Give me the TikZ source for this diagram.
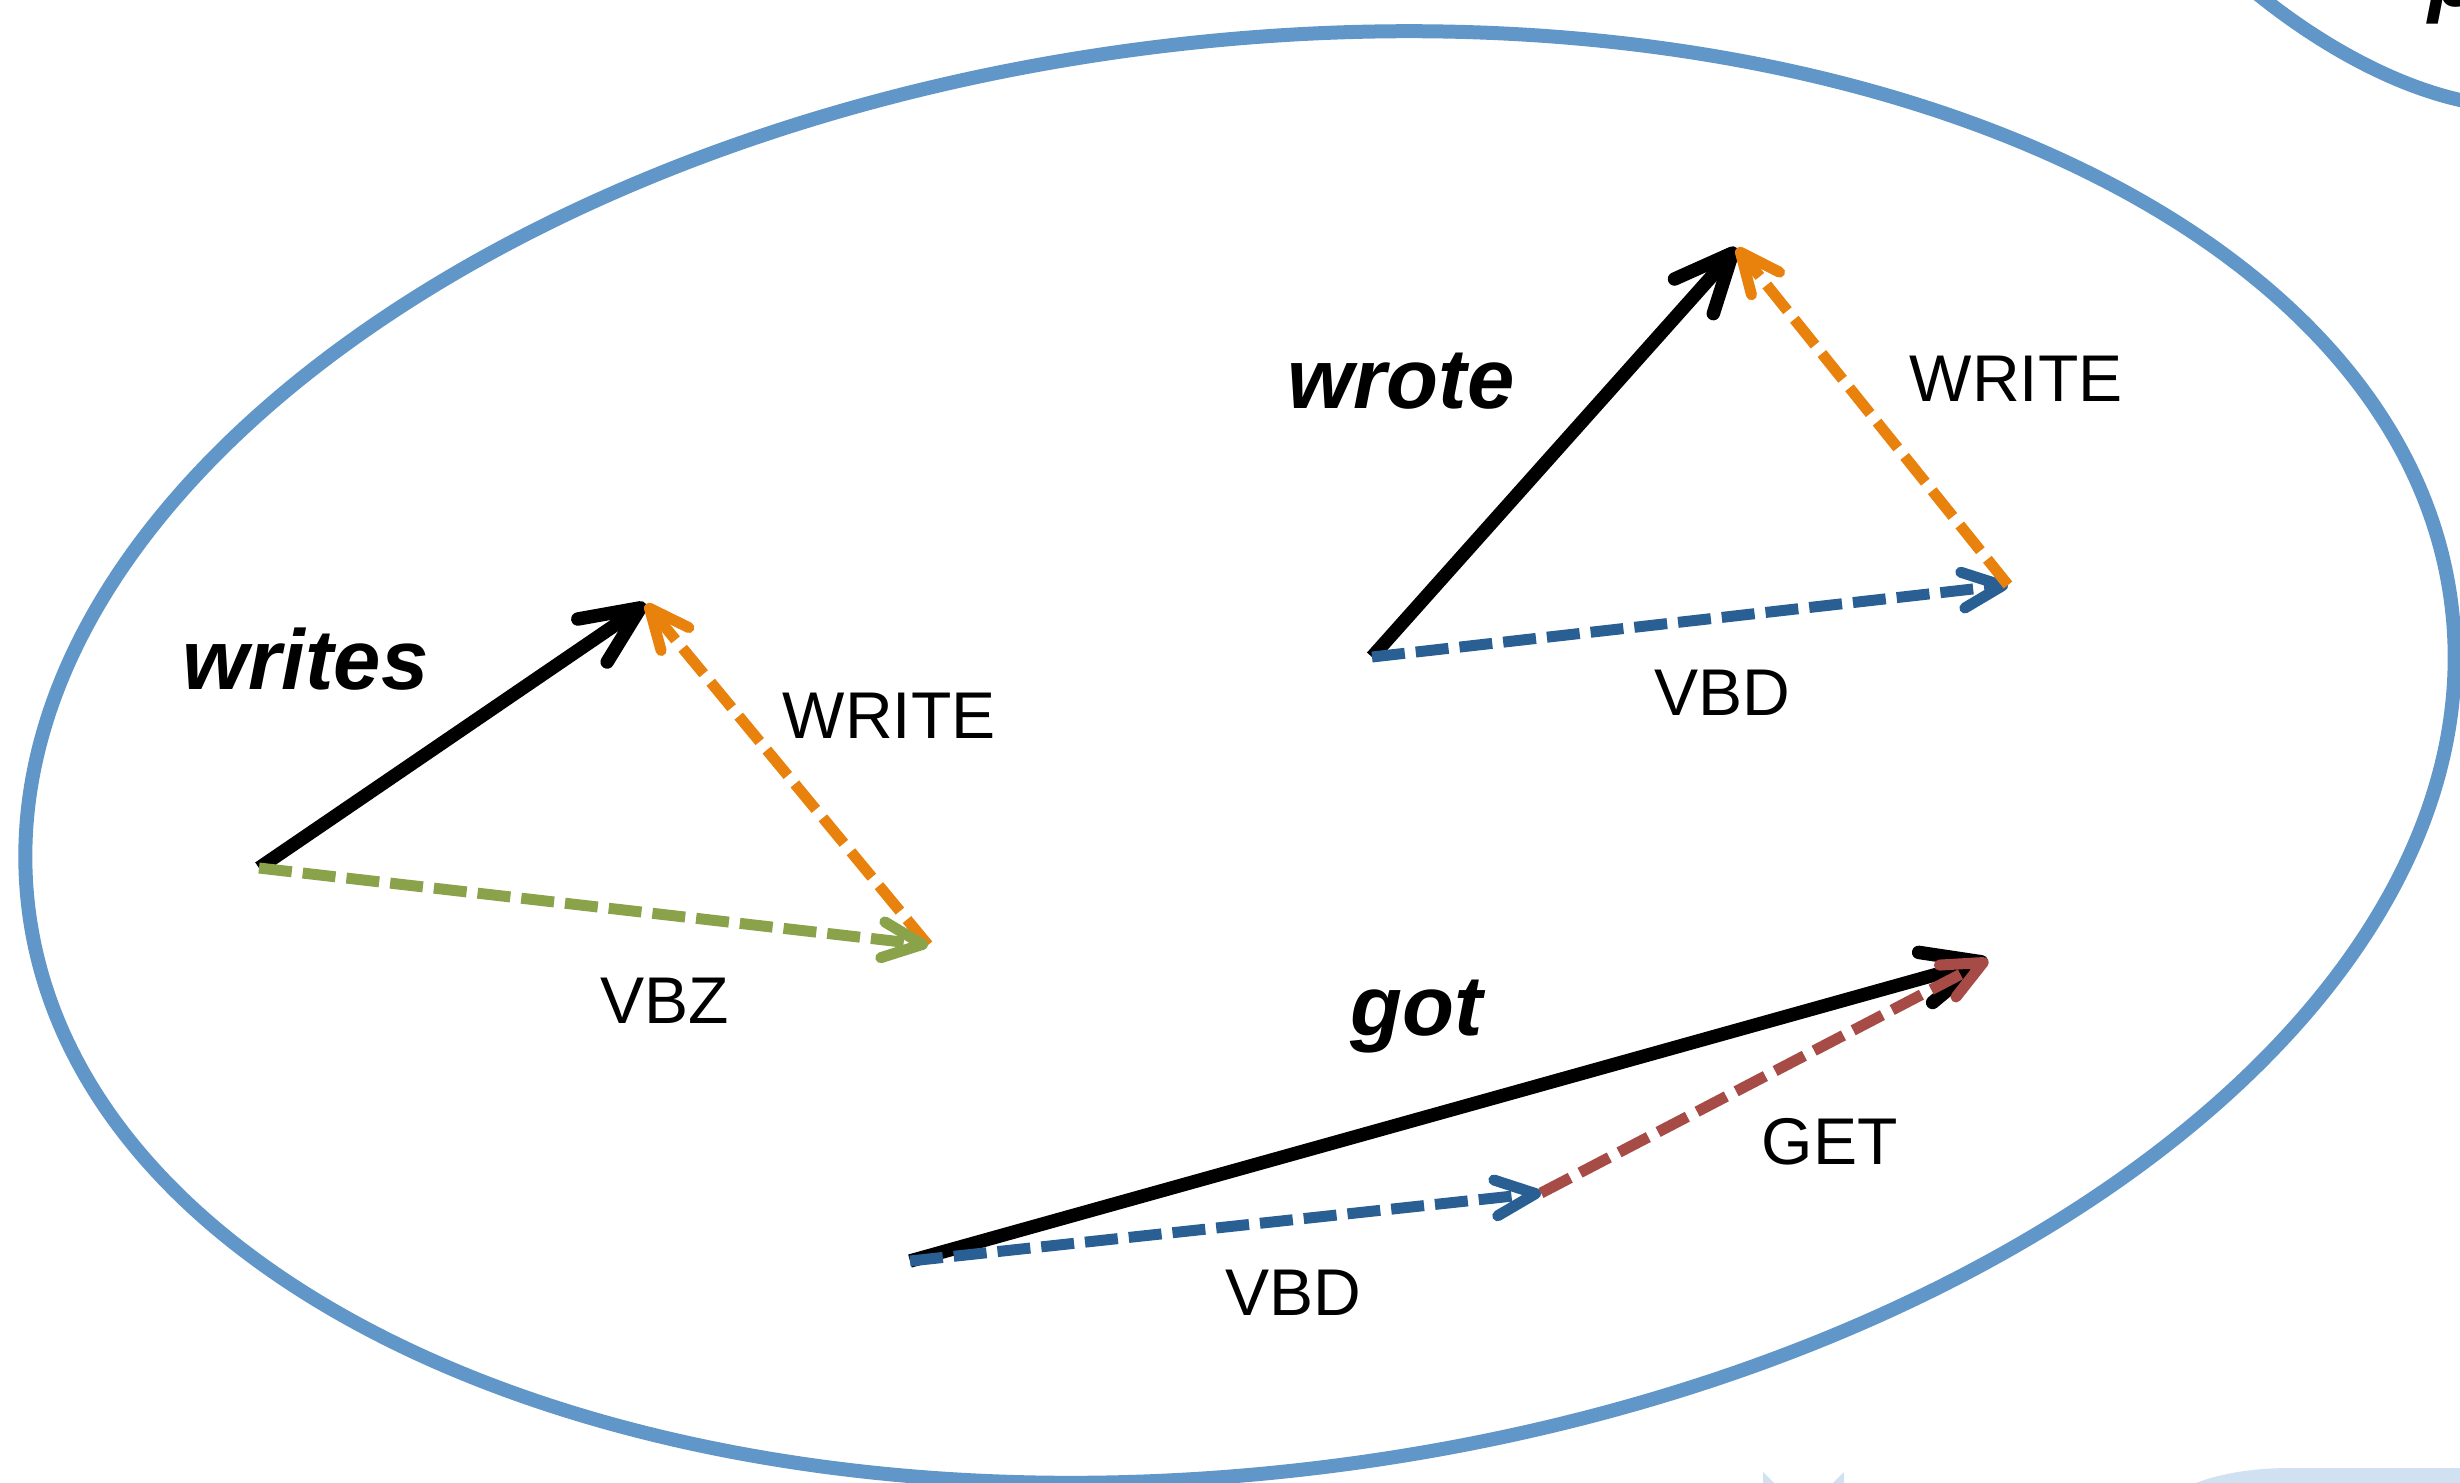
\documentclass[tikz,border=0pt]{standalone}
\usepackage{fontspec}
\setmainfont{Liberation Sans}
\usetikzlibrary{arrows.meta}
\definecolor{rimblue}{RGB}{96,150,200}
\definecolor{paleblue}{RGB}{208,225,242}
\definecolor{lemmaorange}{RGB}{232,130,12}
\definecolor{vbzgreen}{RGB}{138,162,74}
\definecolor{vbdblue}{RGB}{42,95,147}
\definecolor{getred}{RGB}{166,75,69}
\begin{document}
\begin{tikzpicture}[x=0.1mm,y=-0.1mm,
  tag/.style={anchor=base west, inner sep=0pt, font=\fontsize{18.8pt}{22pt}\selectfont},
  word/.style={anchor=base west, inner sep=0pt, font=\fontsize{24.2pt}{28pt}\selectfont\bfseries\itshape},
  vec/.style={line width=1.35mm, -{Straight Barb[length=5.8mm,width=5.2mm,round]}},
  rel/.style={line width=1.1mm, dash pattern=on 3.3mm off 1.1mm, -{Straight Barb[length=4mm,width=3.6mm,round]}},
  rim/.style={rimblue, line width=1.4mm},
]
\useasboundingbox (0,0) rectangle (2460,1482);
\clip (0,0) rectangle (2460,1482);

% neighbouring shapes at the edges
\fill[paleblue] (1763,1472) -- (1803,1512) -- (1844,1472) -- (1844,1530) -- (1763,1530) -- cycle;
\fill[paleblue] (2150,1510) .. controls (2185,1478) and (2240,1468) .. (2290,1468) -- (2470,1468) -- (2470,1510) -- cycle;
\draw[rim] (2255,-8) .. controls (2320,45) and (2400,90) .. (2475,103);
\node[word] (edgeword) at (2428,6) {p};

% cluster outline
\draw[rim, rotate around={7.2:(1240,757)}]
  (1240,757) ellipse [x radius=122.1mm, y radius=71.5mm];

% writes = VBZ + WRITE
\coordinate (w0) at (259,868);
\coordinate (w1) at (646,604);
\coordinate (w2) at (928,945);
\draw[vec] (w0) -- (w1);
\draw[rel, lemmaorange] (w2) -- (w1);
\draw[rel, vbzgreen] (w0) -- (w2);
\node[word] (writes) at (182,689) {writes};
\node[tag] (writeA) at (782,738) {WRITE};
\node[tag] (vbz) at (600,1023) {VBZ};

% wrote = VBD + WRITE
\coordinate (r0) at (1372,657);
\coordinate (r1) at (1737,248);
\coordinate (r2) at (2008,585);
\draw[vec] (r0) -- (r1);
\draw[rel, vbdblue] (r0) -- (r2);
\draw[rel, lemmaorange] (r2) -- (r1);
\node[word] (wrote) at (1287,408) {wrote};
\node[tag] (writeB) at (1909,401) {WRITE};
\node[tag] (vbdA) at (1654,715) {VBD};

% got = VBD + GET
\coordinate (g0) at (910,1261);
\coordinate (g1) at (1988,960);
\coordinate (g2) at (1541,1193);
\draw[vec] (g0) -- (g1);
\draw[rel, vbdblue] (g0) -- (g2);
\draw[rel, getred] (g2) -- (g1);
\node[word] (got) at (1350,1035) {got};
\node[tag] (get) at (1761,1164) {GET};
\node[tag] (vbdB) at (1225,1315) {VBD};
\end{tikzpicture}
\end{document}
